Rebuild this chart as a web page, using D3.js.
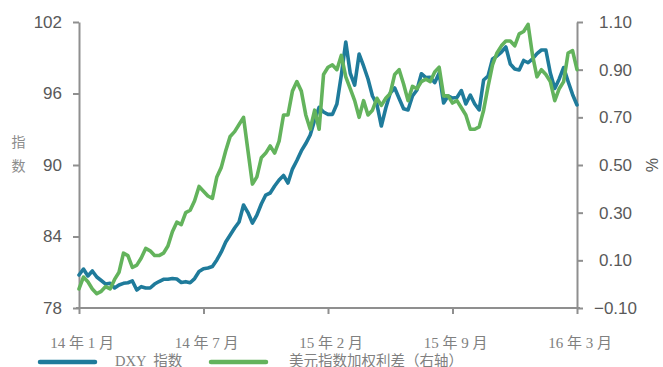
<!DOCTYPE html>
<html>
<head>
<meta charset="utf-8">
<script src="https://cdn.jsdelivr.net/npm/d3@7/dist/d3.min.js"></script>
<style>
  html, body { margin: 0; padding: 0; background: #fff; }
  svg { display: block; }
</style>
</head>
<body>
<svg id="chart" width="663" height="367"></svg>
<script>
// Weekly observations, Jan 2014 – Mar 2016
const dxy = [
  80.77, 81.27, 80.69, 81.11, 80.60, 80.31, 80.01, 80.07, 79.68, 79.93,
  80.07, 80.12, 80.27, 79.51, 79.79, 79.68, 79.68, 80.01, 80.22, 80.41,
  80.41, 80.48, 80.43, 80.14, 80.21, 80.12, 80.47, 81.06, 81.30, 81.36,
  81.48, 82.03, 82.70, 83.54, 84.13, 84.71, 85.22, 86.64, 86.01, 85.13,
  85.80, 86.73, 87.48, 87.65, 88.24, 88.74, 89.12, 88.49, 89.66, 90.38,
  91.18, 91.80, 92.52, 93.78, 94.83, 94.45, 94.25, 94.25, 95.12, 97.55,
  100.32, 97.70, 96.71, 99.31, 98.31, 97.22, 95.79, 95.09, 93.27, 94.78,
  96.04, 96.46, 95.58, 94.72, 94.62, 95.79, 96.29, 97.66, 97.33, 97.36,
  96.91, 97.72, 95.20, 95.79, 95.62, 95.66, 96.25, 95.12, 95.87, 95.12,
  94.62, 97.13, 97.47, 98.90, 99.15, 99.48, 99.90, 98.48, 98.06, 97.97,
  98.77, 98.58, 98.90, 99.34, 99.65, 99.65, 97.72, 96.42, 97.22, 98.18,
  97.01, 95.92, 95.04
];

// Weighted interest-rate spread of the dollar index basket, percent (right axis)
const spread = [
  -0.02, 0.03, 0.01, -0.02, -0.04, -0.03, -0.01, -0.02, 0.02, 0.05,
  0.13, 0.12, 0.07, 0.08, 0.11, 0.15, 0.14, 0.12, 0.12, 0.13,
  0.16, 0.22, 0.26, 0.25, 0.30, 0.31, 0.35, 0.41, 0.39, 0.37,
  0.36, 0.45, 0.49, 0.56, 0.62, 0.64, 0.67, 0.70, 0.56, 0.42,
  0.45, 0.53, 0.55, 0.58, 0.55, 0.60, 0.71, 0.71, 0.81, 0.85,
  0.81, 0.71, 0.65, 0.73, 0.65, 0.88, 0.91, 0.92, 0.90, 0.96,
  0.87, 0.82, 0.77, 0.70, 0.77, 0.71, 0.73, 0.78, 0.75, 0.78,
  0.80, 0.88, 0.90, 0.84, 0.77, 0.83, 0.82, 0.85, 0.86, 0.85,
  0.89, 0.91, 0.79, 0.79, 0.76, 0.77, 0.74, 0.71, 0.65, 0.65,
  0.66, 0.73, 0.83, 0.92, 0.97, 1.00, 1.02, 1.02, 1.00, 1.05,
  1.06, 1.09, 0.96, 0.87, 0.90, 0.88, 0.85, 0.77, 0.82, 0.85,
  0.97, 0.98, 0.90
];

// Category labels shown on the time axis, with the week index each one marks
const xTickLabels = ["14 年 1 月", "14 年 7 月", "15 年 2 月", "15 年 9 月", "16 年 3 月"];
const xTickIndex = [0, 28, 56, 84, 112];

const leftTicks = [78, 84, 90, 96, 102];
const rightTicks = [-0.10, 0.10, 0.30, 0.50, 0.70, 0.90, 1.10];

const seriesNames = ["DXY  指数", "美元指数加权利差（右轴）"];
const colors = ["#1f7b9b", "#63b35c"];

const svg = d3.select("#chart");
const plot = { left: 79, right: 577, top: 22, bottom: 308 };
const axisColor = "#8f8f8f";
const numFont = "'Liberation Sans', Arial, sans-serif";
const cjkFont = "'Liberation Serif', 'Noto Sans CJK SC', serif";

const x = d3.scaleLinear().domain([0, dxy.length - 1]).range([plot.left, plot.right]);
const yL = d3.scaleLinear().domain([78, 102]).range([plot.bottom, plot.top]);
const yR = d3.scaleLinear().domain([-0.10, 1.10]).range([plot.bottom, plot.top]);

function styleAxis(g) {
  g.select(".domain").attr("stroke", axisColor).attr("stroke-width", 2);
  g.selectAll(".tick line").attr("stroke", axisColor).attr("stroke-width", 2);
  g.selectAll(".tick text").attr("fill", "#595959");
}

// Left axis (index)
const gL = svg.append("g")
  .attr("transform", `translate(${plot.left},0)`)
  .call(d3.axisLeft(yL).tickValues(leftTicks).tickSize(6).tickSizeOuter(0).tickPadding(11)
    .tickFormat(d3.format("d")));
styleAxis(gL);
gL.selectAll(".tick text").attr("font-family", numFont).attr("font-size", 17);

// Right axis (percent)
const gR = svg.append("g")
  .attr("transform", `translate(${plot.right},0)`)
  .call(d3.axisRight(yR).tickValues(rightTicks).tickSize(6).tickSizeOuter(0).tickPadding(0)
    .tickFormat(d3.format(".2f")));
styleAxis(gR);
gR.selectAll(".tick text")
  .attr("font-family", numFont).attr("font-size", 17)
  .attr("text-anchor", "middle").attr("x", 38.5);

// Bottom axis
const gB = svg.append("g")
  .attr("transform", `translate(0,${plot.bottom})`)
  .call(d3.axisBottom(x).tickValues(xTickIndex).tickSize(6).tickSizeOuter(0)
    .tickFormat((d, i) => xTickLabels[i]));
styleAxis(gB);
gB.select(".domain").attr("d", `M${plot.left - 3},0H${plot.right + 3}`);
gB.selectAll(".tick text")
  .attr("font-family", cjkFont).attr("font-size", 15)
  .attr("fill", "#808080").attr("dy", 0).attr("y", 40).attr("x", 2.5)
  .attr("xml:space", "preserve").style("white-space", "pre");

// Axis titles
svg.append("text")
  .attr("font-family", cjkFont).attr("font-size", 14).attr("fill", "#8c8c8c")
  .attr("text-anchor", "middle")
  .selectAll("tspan").data(["指", "数"]).join("tspan")
  .attr("x", 18.5).attr("y", (d, i) => 147 + i * 23.5).text(d => d);

svg.append("text")
  .attr("font-family", numFont).attr("font-size", 16).attr("fill", "#595959")
  .attr("text-anchor", "middle")
  .attr("transform", "translate(646,165) rotate(90)")
  .text("%");

// Series lines
const lineL = d3.line().x((d, i) => x(i)).y(d => yL(d));
const lineR = d3.line().x((d, i) => x(i)).y(d => yR(d));

svg.append("path").datum(dxy)
  .attr("d", lineL).attr("fill", "none").attr("stroke", colors[0])
  .attr("stroke-width", 3.6).attr("stroke-linejoin", "round").attr("stroke-linecap", "round");

svg.append("path").datum(spread)
  .attr("d", lineR).attr("fill", "none").attr("stroke", colors[1])
  .attr("stroke-width", 3.6).attr("stroke-linejoin", "round").attr("stroke-linecap", "round");

// Legend along the bottom edge
const legendItems = [
  { name: seriesNames[0], color: colors[0], x0: 40, x1: 95, tx: 115 },
  { name: seriesNames[1], color: colors[1], x0: 211, x1: 266, tx: 289 }
];
const lg = svg.append("g");
legendItems.forEach(it => {
  lg.append("line")
    .attr("x1", it.x0).attr("x2", it.x1).attr("y1", 362).attr("y2", 362)
    .attr("stroke", it.color).attr("stroke-width", 4.5).attr("stroke-linecap", "round");
  lg.append("text")
    .attr("x", it.tx).attr("y", 365.5)
    .attr("font-family", cjkFont).attr("font-size", 14.5).attr("fill", "#808080")
    .attr("xml:space", "preserve").style("white-space", "pre")
    .text(it.name);
});
</script>
</body>
</html>
